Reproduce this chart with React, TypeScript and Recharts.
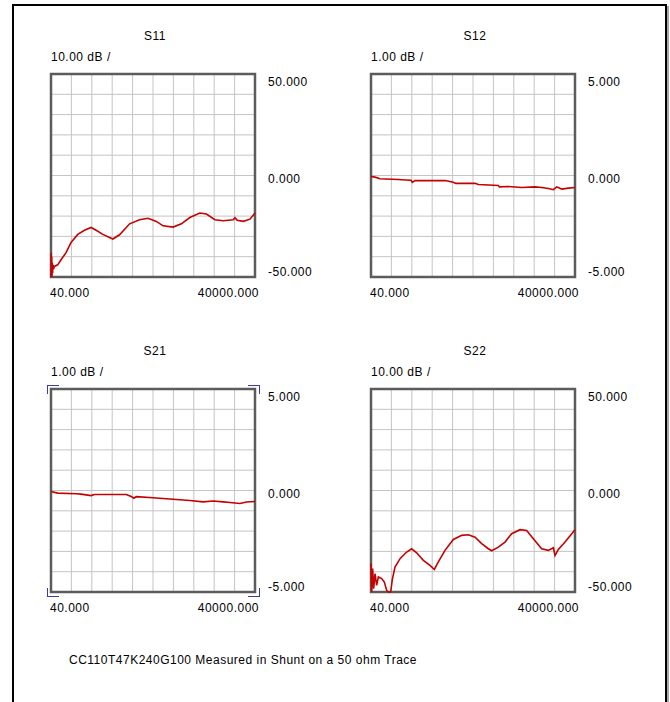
import React from 'react';
import {
  LineChart, Line, XAxis, YAxis, CartesianGrid, ReferenceArea,
} from 'recharts';

// frequency (MHz) / magnitude (dB)
const s11Freq = [40, 80, 120, 170, 230, 290, 360, 440, 540, 695, 1350, 2005, 2988, 3970, 5280, 6590, 7900, 8884, 10194, 12159, 13470, 15435, 17400, 19037, 20675, 21985, 23950, 25588, 27226, 29191, 30501, 32139, 33776, 35742, 36069, 36500, 37707, 39017, 40000];
const s11Db = [-50, -38, -49, -40, -50, -43, -48, -44, -46, -44.8, -44, -41.5, -38, -33, -29, -27, -25.6, -27, -29, -31.3, -29.2, -23.8, -21.8, -21.1, -22.6, -24.8, -25.4, -23.8, -20.7, -18.5, -19, -21.8, -22.3, -21.8, -20.8, -22, -22.6, -21.5, -18.5];

const s12Freq = [40, 824, 1803, 5395, 6048, 7876, 8137, 8660, 14537, 16170, 16626, 20414, 21067, 24985, 25181, 26944, 29556, 32168, 33474, 34780, 35760, 36413, 37392, 38698, 40000];
const s12Db = [-0.05, -0.08, -0.16, -0.2, -0.21, -0.23, -0.34, -0.25, -0.25, -0.33, -0.39, -0.38, -0.44, -0.49, -0.56, -0.54, -0.59, -0.56, -0.59, -0.64, -0.7, -0.56, -0.67, -0.62, -0.59];

const s21Freq = [40, 1350, 4953, 5935, 7900, 8555, 14778, 15760, 16284, 16743, 20015, 23950, 27226, 29846, 31811, 33776, 35087, 37052, 38362, 40000];
const s21Db = [-0.05, -0.13, -0.16, -0.18, -0.25, -0.2, -0.2, -0.3, -0.38, -0.3, -0.36, -0.43, -0.49, -0.56, -0.52, -0.56, -0.59, -0.64, -0.57, -0.54];

const s22Freq = [40, 171, 366, 562, 824, 1150, 1477, 2130, 2652, 3109, 3436, 3893, 4219, 4742, 5721, 7027, 8007, 8986, 10292, 11598, 12447, 13231, 14537, 16170, 17802, 19108, 20414, 21720, 23026, 23679, 24985, 26291, 27597, 29230, 30536, 31842, 33474, 34780, 35760, 36087, 36740, 38046, 40000];
const s22Db = [-36, -50, -38.5, -48.4, -41, -46.7, -42.6, -43.4, -45.1, -49.2, -50, -50, -43.8, -37.7, -33.6, -30.3, -28.7, -30.7, -34.4, -36.9, -38.9, -35.2, -29.5, -24.1, -22.1, -21.8, -23, -26.2, -28.7, -29.7, -27.9, -25.4, -21.3, -19.3, -19.7, -23.8, -28.7, -29.5, -28.2, -32, -29, -25.4, -19.3];

const freqTicks = [40, 4036, 8032, 12028, 16024, 20020, 24016, 28012, 32008, 36004, 40000];
const freqLabels = ['40.000', '40000.000'];
const dbTicks10 = [-50, -40, -30, -20, -10, 0, 10, 20, 30, 40, 50];
const dbLabels10 = ['50.000', '0.000', '-50.000'];
const dbTicks1 = [-5, -4, -3, -2, -1, 0, 1, 2, 3, 4, 5];
const dbLabels1 = ['5.000', '0.000', '-5.000'];

const FONT = '"Liberation Sans", Arial, sans-serif';
const LS = 0.5;
const PW = 204;
const PH = 203;

const toRows = (f: number[], db: number[]) => f.map((v, i) => ({ f: v, db: db[i] }));

interface PanelProps {
  title: string;
  scale: string;
  left: number;
  top: number;
  freq: number[];
  db: number[];
  yTicks: number[];
  yLabels: string[];
  brackets?: boolean;
}

const Panel = ({ title, scale, left, top, freq, db, yTicks, yLabels, brackets }: PanelProps) => {
  const data = toRows(freq, db);
  const yMin = yTicks[0];
  const yMax = yTicks[yTicks.length - 1];

  const yTick = (p: any) => {
    const v = p.payload.value;
    let label = '';
    let dy = 0;
    if (v === yMax) { label = yLabels[0]; dy = 12; }
    else if (v === 0) { label = yLabels[1]; dy = 7; }
    else if (v === yMin) { label = yLabels[2]; dy = -1; }
    if (!label) return <g />;
    return (
      <text x={p.x + 13} y={p.y + dy} fontSize={12} fontFamily={FONT} letterSpacing={LS} fill="#000" textAnchor="start">
        {label}
      </text>
    );
  };

  const xTick = (p: any) => {
    const i = p.index;
    if (i !== 0 && i !== freqTicks.length - 1) return <g />;
    const first = i === 0;
    return (
      <text x={first ? p.x - 1 : p.x + 4} y={p.y + 20} fontSize={12} fontFamily={FONT} letterSpacing={LS} fill="#000"
        textAnchor={first ? 'start' : 'end'}>
        {first ? freqLabels[0] : freqLabels[1]}
      </text>
    );
  };

  const br = '1.5px solid #3a3aa8';
  const arm = { position: 'absolute' as const, width: 11, height: 8 };
  const txt = { position: 'absolute' as const, lineHeight: '15px', fontSize: 12, fontFamily: FONT, letterSpacing: LS };

  return (
    <>
      <div style={{ ...txt, left: left + 2, width: PW, top: top - 45, textAlign: 'center' }}>
        {title}
      </div>
      <div style={{ ...txt, left: left, top: top - 24 }}>
        {scale}
      </div>
      <div style={{ position: 'absolute', left: left - 10, top: top - 10 }}>
        <LineChart width={10 + PW + 70} height={10 + PH + 30} data={data}
          margin={{ top: 10, left: 10, right: 0, bottom: 0 }}>
          <CartesianGrid stroke="#c4c4c4" strokeWidth={1} />
          <XAxis dataKey="f" type="number" domain={[40, 40000]} ticks={freqTicks}
            axisLine={false} tickLine={false} tickSize={0} tickMargin={0} height={30}
            tick={xTick} interval={0} />
          <YAxis orientation="right" type="number" domain={[yMin, yMax]} ticks={yTicks}
            axisLine={false} tickLine={false} tickSize={0} tickMargin={0} width={70}
            tick={yTick} interval={0} />
          <ReferenceArea x1={40} x2={40000} y1={yMin} y2={yMax} fill="none" fillOpacity={0}
            stroke="#5c5c5c" strokeWidth={2.5} />
          <Line dataKey="db" type="linear" stroke="#c40000" strokeWidth={1.6} dot={false}
            isAnimationActive={false} />
        </LineChart>
      </div>
      {brackets && (
        <>
          <div style={{ ...arm, left: left - 4, top: top - 4, borderTop: br, borderLeft: br }} />
          <div style={{ ...arm, left: left + PW - 7, top: top - 4, borderTop: br, borderRight: br }} />
          <div style={{ ...arm, left: left - 4, top: top + PH - 4, borderBottom: br, borderLeft: br }} />
          <div style={{ ...arm, left: left + PW - 7, top: top + PH - 4, borderBottom: br, borderRight: br }} />
        </>
      )}
    </>
  );
};

const App = () => (
  <div style={{ position: 'absolute', left: 0, top: 0, width: 670, height: 702, overflow: 'hidden', background: '#fff' }}>
    <div style={{ position: 'absolute', left: 12, top: 4, width: 651, height: 760, border: '2px solid #000' }} />
    <div style={{ position: 'absolute', left: 667, top: 6, width: 2, height: 760, background: '#a8a8a8' }} />
    <Panel title="S11" scale="10.00 dB /" left={51} top={74} freq={s11Freq} db={s11Db} yTicks={dbTicks10} yLabels={dbLabels10} />
    <Panel title="S12" scale="1.00 dB /" left={371} top={74} freq={s12Freq} db={s12Db} yTicks={dbTicks1} yLabels={dbLabels1} />
    <Panel title="S21" scale="1.00 dB /" left={51} top={389} freq={s21Freq} db={s21Db} yTicks={dbTicks1} yLabels={dbLabels1} brackets />
    <Panel title="S22" scale="10.00 dB /" left={371} top={389} freq={s22Freq} db={s22Db} yTicks={dbTicks10} yLabels={dbLabels10} />
    <div style={{ position: 'absolute', left: 69, top: 653, lineHeight: '15px', fontSize: 12, fontFamily: FONT, letterSpacing: LS }}>
      CC110T47K240G100 Measured in Shunt on a 50 ohm Trace
    </div>
  </div>
);

export default App;
